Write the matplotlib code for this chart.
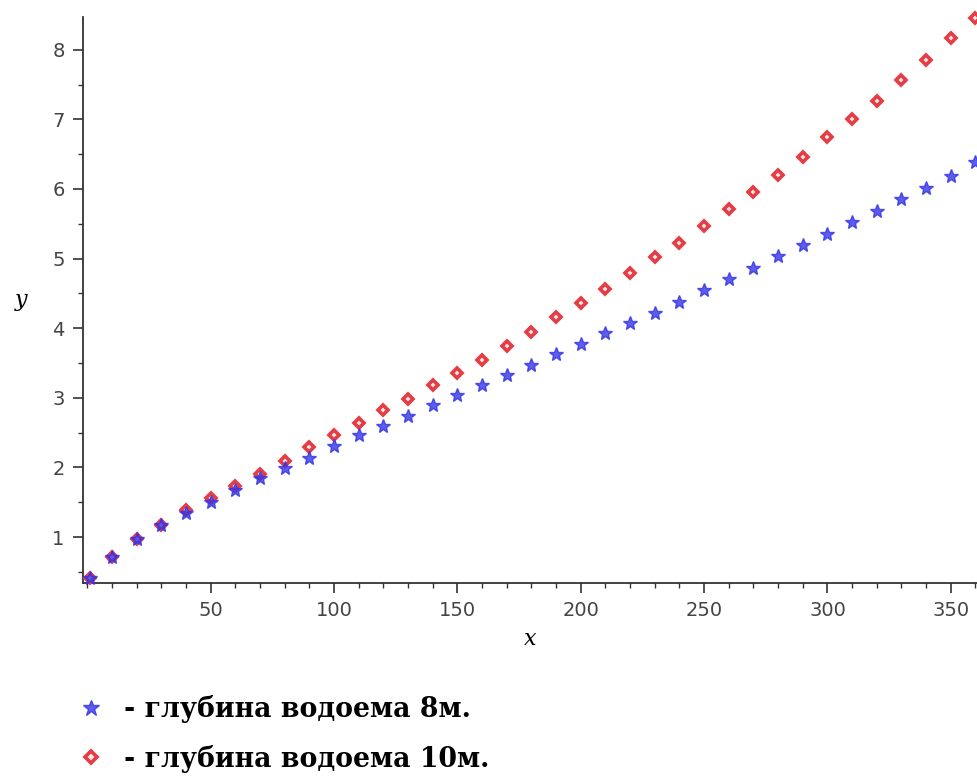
import matplotlib
matplotlib.use("Agg")
from matplotlib import pyplot as plt
from matplotlib.ticker import MultipleLocator

# x values (shared by both series)
x = [1, 10, 20, 30, 40, 50, 60, 70, 80, 90, 100, 110, 120, 130, 140, 150, 160, 170, 180,
     190, 200, 210, 220, 230, 240, 250, 260, 270, 280, 290, 300, 310, 320, 330, 340, 350, 360]

# depth 8 m (blue stars)
y8 = [0.41, 0.72, 0.97, 1.17, 1.34, 1.51, 1.68, 1.85, 1.99, 2.14, 2.31, 2.46, 2.60, 2.74,
      2.89, 3.04, 3.19, 3.33, 3.47, 3.63, 3.77, 3.93, 4.08, 4.22, 4.38, 4.55, 4.71, 4.87,
      5.03, 5.19, 5.35, 5.53, 5.69, 5.85, 6.02, 6.19, 6.39]

# depth 10 m (red diamonds)
y10 = [0.41, 0.72, 0.97, 1.18, 1.39, 1.56, 1.74, 1.90, 2.09, 2.29, 2.46, 2.64, 2.83, 2.99,
       3.19, 3.36, 3.55, 3.75, 3.94, 4.16, 4.36, 4.57, 4.80, 5.02, 5.23, 5.47, 5.71, 5.95,
       6.20, 6.46, 6.74, 7.00, 7.27, 7.56, 7.85, 8.17, 8.46]

labels = ["- глубина водоема 8м.", "- глубина водоема 10м."]

fig = plt.figure(figsize=(9.78, 7.76), dpi=100)
ax = fig.add_axes([0.0846, 0.2487, 0.9141, 0.7294])

red_line, = ax.plot(x, y10, linestyle='none', marker='D', markersize=5,
                    markerfacecolor='#fde8e8', markeredgecolor='#e63c44',
                    markeredgewidth=2.6, label=labels[1], clip_on=False, zorder=3)
blue_line, = ax.plot(x, y8, linestyle='none', marker='*', markersize=10,
                     color='#3434e6', alpha=0.8, label=labels[0], clip_on=False, zorder=4)

ax.set_xlim(-1.8, 360.5)
ax.set_ylim(0.34, 8.47)

for s in ['top', 'right']:
    ax.spines[s].set_visible(False)
for s in ['left', 'bottom']:
    ax.spines[s].set_linewidth(1.3)
    ax.spines[s].set_color('#333333')

ax.xaxis.set_major_locator(MultipleLocator(50))
ax.xaxis.set_minor_locator(MultipleLocator(10))
ax.yaxis.set_major_locator(MultipleLocator(1))
ax.yaxis.set_minor_locator(MultipleLocator(0.5))
ax.set_xticks([50, 100, 150, 200, 250, 300, 350])
ax.tick_params(which='major', length=7, width=1.2, colors='#333333', labelsize=14, pad=6,
               labelcolor='#444444')
ax.tick_params(which='minor', length=3.5, width=1.0, colors='#333333')

ax.set_xlabel('x', fontsize=16, fontstyle='italic', family='DejaVu Serif', labelpad=6)
ax.set_ylabel('y', fontsize=16, fontstyle='italic', family='DejaVu Serif', rotation=0,
              labelpad=22, va='center')

fig.legend(handles=[blue_line, red_line], loc='center left',
           bbox_to_anchor=(0.066, 0.054), frameon=False, numpoints=1, markerscale=1.2,
           handlelength=1.0, handletextpad=0.72, labelspacing=0.8, borderpad=0,
           prop={'family': 'DejaVu Serif', 'weight': 'bold', 'size': 19.3})

fig.savefig('out.png', dpi=100)
